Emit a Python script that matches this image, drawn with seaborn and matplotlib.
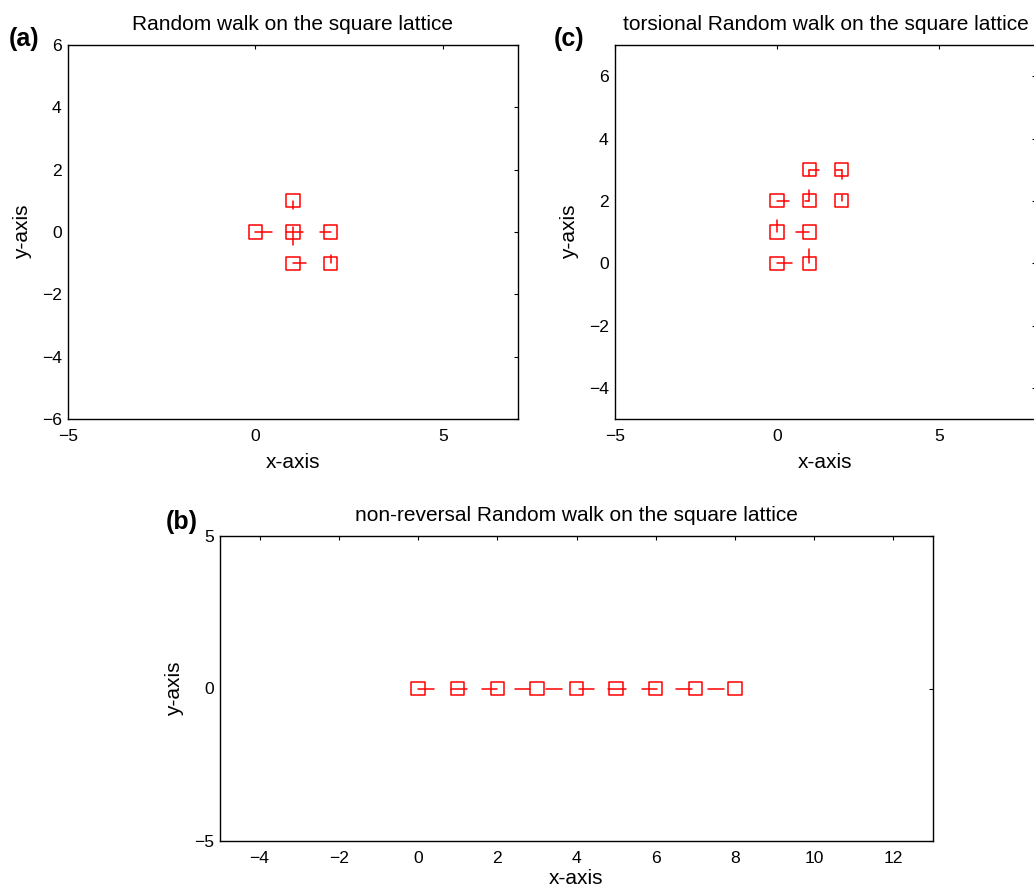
import numpy as np
import pandas as pd
import matplotlib
matplotlib.use("Agg")
import matplotlib.pyplot as plt
import seaborn as sns

# ---------------- data ----------------
# (a) simple random walk
a_x = [0, 1, 2, 1, 1, 2]
a_y = [0, 0, 0, 1, -1, -1]
a_seg_x0 = [0.0, 0.82, 1.0, 1.71, 1.0, 1.0, 2.0]
a_seg_x1 = [0.43, 1.26, 1.0, 2.0, 1.0, 1.35, 2.0]
a_seg_y0 = [0.0, 0.0, 0.17, 0.0, 1.0, -1.0, -1.0]
a_seg_y1 = [0.0, 0.0, -0.42, 0.0, 0.75, -1.0, -0.74]

# (c) torsional random walk
c_x = [0, 1, 0, 1, 0, 1, 2, 1, 2]
c_y = [0, 0, 1, 1, 2, 2, 2, 3, 3]
c_seg_x0 = [0.0, 1.0, 0.0, 0.58, 0.0, 1.0, 0.86, 2.0, 1.0, 1.0, 1.82, 2.0]
c_seg_x1 = [0.48, 1.0, 0.0, 1.0, 0.37, 1.0, 1.0, 2.0, 1.29, 1.0, 2.0, 2.0]
c_seg_y0 = [0.0, 0.0, 1.0, 1.0, 2.0, 2.0, 2.0, 2.0, 3.0, 3.0, 3.0, 3.0]
c_seg_y1 = [0.0, 0.45, 1.4, 1.0, 2.0, 2.35, 2.0, 2.2, 3.0, 2.8, 3.0, 2.7]

# (b) non-reversal random walk
b_x = [0, 1, 2, 3, 4, 5, 6, 7, 8]
b_y = [0, 0, 0, 0, 0, 0, 0, 0, 0]
b_seg_x0 = [0.0, 0.82, 1.62, 2.44, 3.24, 4.07, 4.80, 5.65, 6.52, 7.31]
b_seg_x1 = [0.40, 1.24, 2.0, 2.83, 3.64, 4.45, 5.24, 6.03, 6.92, 7.72]

# tick labels
a_xticks = [-5, 0, 5]
a_yticks = [-6, -4, -2, 0, 2, 4, 6]
c_xticks = [-5, 0, 5]
c_yticks = [-4, -2, 0, 2, 4, 6]
b_xticks = [-4, -2, 0, 2, 4, 6, 8, 10, 12]
b_yticks = [-5, 0, 5]

# ---------------- style ----------------
sns.set_theme(style="white")
plt.rcParams["font.family"] = ["Liberation Sans", "DejaVu Sans"]
plt.rcParams["axes.unicode_minus"] = True
plt.rcParams["text.color"] = "black"

W, H = 1034, 890
fig = plt.figure(figsize=(W / 100, H / 100), dpi=100)


def px_axes(l, r, t, b):
    return fig.add_axes([l / W, (H - b) / H, (r - l) / W, (b - t) / H])


ax_a = px_axes(68, 518, 45, 419)
ax_c = px_axes(615, 1036, 45, 419)
ax_b = px_axes(220, 933, 536, 841)

TICK_FS = 12.6
LAB_FS = 15
RED = "#ff0000"


def draw(ax, xs, ys, sx0, sx1, sy0, sy1, xlim, ylim, xt, yt, title, xpad=6):
    for x0, x1, y0, y1 in zip(sx0, sx1, sy0, sy1):
        ax.plot([x0, x1], [y0, y1], color=RED, lw=1.1, zorder=2)
    df = pd.DataFrame({"x": xs, "y": ys})
    sns.scatterplot(data=df, x="x", y="y", ax=ax, marker="s", s=92,
                    color="none", edgecolor=RED, linewidth=1.1, zorder=3)
    ax.set_xlim(*xlim)
    ax.set_ylim(*ylim)
    ax.set_xticks(xt)
    ax.set_yticks(yt)
    ax.set_xticklabels([str(v).replace("-", "\u2212") for v in xt])
    ax.set_yticklabels([str(v).replace("-", "\u2212") for v in yt])
    ax.tick_params(direction="in", length=3.2, width=0.8, color="black",
                   top=True, right=True, labelsize=TICK_FS, colors="black")
    ax.tick_params(axis="x", pad=7.5)
    ax.tick_params(axis="y", pad=4.5)
    for s in ax.spines.values():
        s.set_visible(True)
        s.set_color("black")
        s.set_linewidth(1.0)
    ax.set_xlabel("x-axis", fontsize=LAB_FS, labelpad=xpad, color="black")
    ax.set_ylabel("y-axis", fontsize=LAB_FS, labelpad=7, color="black")
    ax.set_title(title, fontsize=LAB_FS, pad=11, color="black")
    ax.grid(False)


draw(ax_a, a_x, a_y, a_seg_x0, a_seg_x1, a_seg_y0, a_seg_y1,
     (-5, 7), (-6, 6), a_xticks, a_yticks, "Random walk on the square lattice")
draw(ax_c, c_x, c_y, c_seg_x0, c_seg_x1, c_seg_y0, c_seg_y1,
     (-5, 8), (-5, 7), c_xticks, c_yticks,
     "torsional Random walk on the square lattice")
draw(ax_b, b_x, b_y, b_seg_x0, b_seg_x1, [0] * len(b_seg_x0), [0] * len(b_seg_x0),
     (-5, 13), (-5, 5), b_xticks, b_yticks,
     "non-reversal Random walk on the square lattice", xpad=1.5)

PFS = 18
fig.text(9 / W, 1 - 46 / H, "(a)", fontsize=PFS, fontweight="bold", ha="left",
         va="baseline", color="black")
fig.text(554 / W, 1 - 46 / H, "(c)", fontsize=PFS, fontweight="bold", ha="left",
         va="baseline", color="black")
fig.text(166 / W, 1 - 529 / H, "(b)", fontsize=PFS, fontweight="bold", ha="left",
         va="baseline", color="black")

fig.savefig("out.png", dpi=100, facecolor="white")
